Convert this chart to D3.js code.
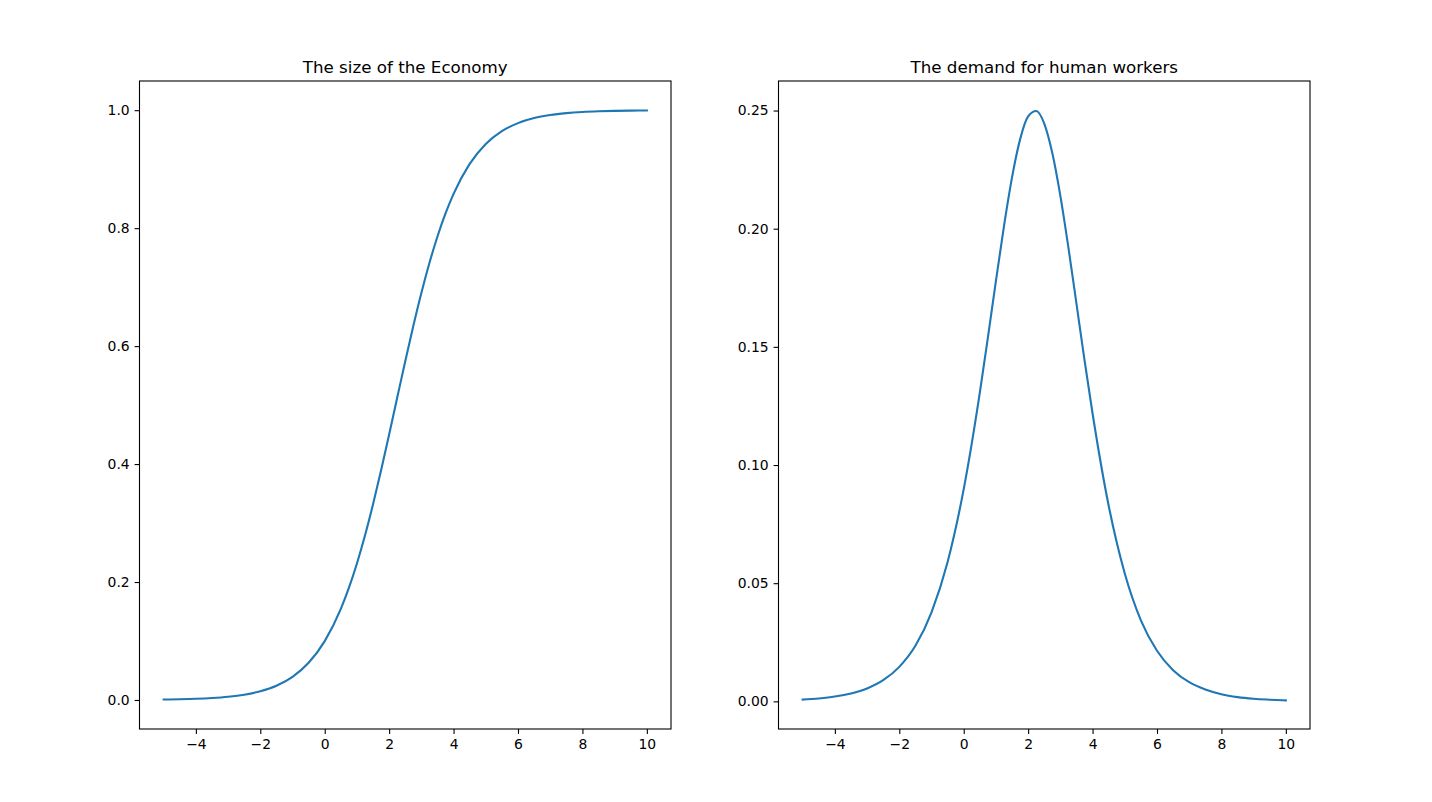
<!DOCTYPE html>
<html><head><meta charset="utf-8">
<script src="https://cdn.jsdelivr.net/npm/d3@7"></script>
<style>body{margin:0;background:#fff}svg{display:block}text{font-family:"DejaVu Sans",sans-serif}</style>
</head><body><svg id="c" width="1432" height="802"></svg>
<script>
const xs = [-5,-4.5,-4,-3.5,-3,-2.5,-2,-1.5,-1,-0.5,0,0.5,0.75,1,1.25,1.5,1.75,2,2.25,2.5,2.75,3,3.25,3.5,3.75,4,4.5,5,5.5,6,6.5,7,7.5,8,8.5,9,9.5,10];
const economy = [0.000746,0.00123,0.00202,0.00334,0.00549,0.00902,0.0148,0.0241,0.0392,0.0630,0.0998,0.1545,0.1900,0.2315,0.2789,0.3318,0.3894,0.4502,0.5125,0.5744,0.6341,0.6900,0.7408,0.7858,0.8249,0.8581,0.9089,0.9427,0.9644,0.9781,0.9866,0.9918,0.9950,0.9970,0.9982,0.9989,0.9993,0.9996];
const demand = [0.000746,0.00123,0.00202,0.00333,0.00546,0.00894,0.0146,0.0235,0.0377,0.0590,0.0898,0.1306,0.1539,0.1779,0.2011,0.2217,0.2378,0.2475,0.2498,0.2445,0.2320,0.2139,0.1920,0.1683,0.1444,0.1218,0.0828,0.0541,0.0343,0.0214,0.0132,0.0081,0.0050,0.0030,0.0018,0.0011,0.0007,0.0004];
const titles = ["The size of the Economy","The demand for human workers"];
const xTicks = [-4,-2,0,2,4,6,8,10];
const yTicksL = [0,0.2,0.4,0.6,0.8,1.0];
const yTicksR = [0,0.05,0.10,0.15,0.20,0.25];

const svg = d3.select("#c");
const panels = [
  {x0:139.5,x1:671,ys:economy,yd:[-0.0492,1.0495],ticks:yTicksL,fmt:d3.format(".1f"),title:titles[0]},
  {x0:778.5,x1:1310,ys:demand,yd:[-0.0117,0.2625],ticks:yTicksR,fmt:d3.format(".2f"),title:titles[1]}
];
const plotTop=81, plotBottom=729;
panels.forEach(p=>{
  const x = d3.scaleLinear().domain([-5.75,10.75]).range([p.x0,p.x1]);
  const y = d3.scaleLinear().domain(p.yd).range([plotBottom,plotTop]);
  const g = svg.append("g");
  const ax = g.append("g").attr("transform",`translate(0,${plotBottom})`)
    .call(d3.axisBottom(x).tickValues(xTicks).tickSize(4.9).tickPadding(4.9).tickFormat(d3.format("d")));
  const ay = g.append("g").attr("transform",`translate(${p.x0},0)`)
    .call(d3.axisLeft(y).tickValues(p.ticks).tickSize(4.9).tickPadding(4.9).tickFormat(p.fmt));
  [ax,ay].forEach(a=>{a.select(".domain").remove();a.selectAll("text").attr("font-size","13.9px").attr("fill","#000").style("font-family","DejaVu Sans");a.selectAll("line").attr("stroke","#000").attr("stroke-width",1.1);});
  const line = d3.line().x((d,i)=>x(xs[i])).y(d=>y(d)).curve(d3.curveMonotoneX);
  g.append("path").datum(p.ys).attr("d",line).attr("fill","none").attr("stroke","#1f77b4").attr("stroke-width",2.1).attr("stroke-linecap","square");
  g.append("rect").attr("x",p.x0).attr("y",plotTop).attr("width",p.x1-p.x0).attr("height",plotBottom-plotTop).attr("fill","none").attr("stroke","#000").attr("stroke-width",1.1);
  g.append("text").attr("x",(p.x0+p.x1)/2).attr("y",plotTop-8).attr("text-anchor","middle").attr("font-size","16.7px").text(p.title);
});
</script></body></html>
